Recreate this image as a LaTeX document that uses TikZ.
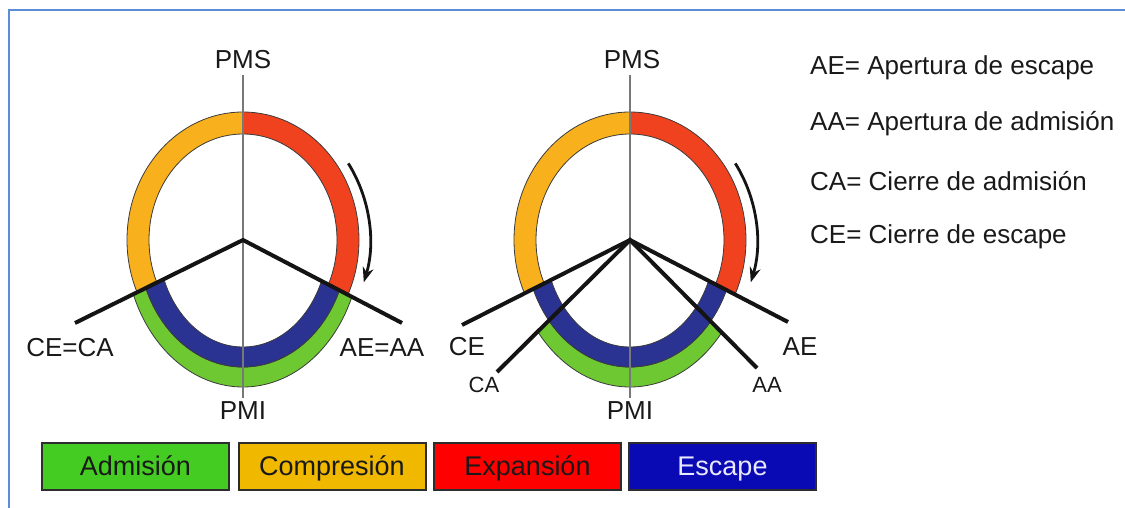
\documentclass[tikz,border=0pt]{standalone}
\usepackage{fontspec}
\setmainfont{Liberation Sans}
\usetikzlibrary{arrows.meta,calc}
\definecolor{frameblue}{HTML}{5B8ED6}
\definecolor{ringyellow}{RGB}{248,176,28}
\definecolor{ringred}{RGB}{240,66,30}
\definecolor{ringgreen}{RGB}{110,200,50}
\definecolor{ringblue}{RGB}{42,50,146}
\definecolor{bandedge}{RGB}{60,60,60}
\definecolor{axiscol}{RGB}{120,120,120}
\definecolor{raycol}{RGB}{20,20,20}
\definecolor{txt}{RGB}{25,25,25}
\definecolor{boxedge}{RGB}{45,45,45}
\definecolor{boxgreen}{RGB}{68,204,34}
\definecolor{boxyellow}{RGB}{240,185,0}
\definecolor{boxred}{RGB}{255,0,0}
\definecolor{boxblue}{RGB}{10,10,180}
\definecolor{lighttxt}{RGB}{232,232,255}
\begin{document}
\begin{tikzpicture}[x=1pt,y=-1pt,
  lbl/.style={font=\fontsize{26}{30}\selectfont, text=txt, inner sep=0pt},
  smalllbl/.style={font=\fontsize{22}{26}\selectfont, text=txt, inner sep=0pt},
  legbox/.style={draw=boxedge, line width=2pt, minimum width=187pt, minimum height=47pt, inner sep=0pt, text height=22pt, text depth=5pt, font=\fontsize{27}{30}\selectfont, text=txt},
  ray/.style={line width=4pt, draw=raycol},
  axisline/.style={line width=1.3pt, draw=axiscol},
  band/.style={even odd rule, draw=bandedge, line width=0.8pt},
  turn/.style={line width=2.8pt, draw=raycol, -{Stealth[length=15pt,width=11pt]}},
]
\useasboundingbox (0,0) rectangle (1125,508);
\draw[frameblue, line width=2pt] (1125,10) -- (9,10) -- (9,508);

% ---------- circle 1 ----------
\coordinate (c1) at (243,240);
\coordinate (l1) at (75,323);
\coordinate (r1) at (402,323);
\coordinate (t1) at (243,75);
\coordinate (b1) at (243,398);
\begin{scope}
  \clip (c1) -- ($(c1)!4!(l1)$) -- ($(c1)+(-700,-700)$) -- ($(c1)+(0,-700)$) -- cycle;
  \path[band, fill=ringyellow] (c1) ellipse[x radius=116, y radius=128] (c1) ellipse[x radius=94, y radius=106];
\end{scope}
\begin{scope}
  \clip (c1) -- ($(c1)!4!(r1)$) -- ($(c1)+(700,-700)$) -- ($(c1)+(0,-700)$) -- cycle;
  \path[band, fill=ringred] (c1) ellipse[x radius=116, y radius=128] (c1) ellipse[x radius=94, y radius=106];
\end{scope}
\begin{scope}
  \clip (c1) -- ($(c1)!4!(l1)$) -- ($(c1)!4!(r1)$) -- cycle;
  \path[band, fill=ringgreen] (c1) ellipse[x radius=118, y radius=147] (c1) ellipse[x radius=105, y radius=127];
  \path[band, fill=ringblue] (c1) ellipse[x radius=105, y radius=127] (c1) ellipse[x radius=85, y radius=107];
\end{scope}
\draw[axisline] (t1) -- (b1);
\draw[ray] (l1) -- (c1) -- (r1);
\coordinate (a1s) at ($(c1)+(-34:127 and 137)$);
\draw[turn] (a1s) arc[start angle=-34, end angle=18, x radius=127, y radius=137];
\node[lbl] (pms1) at (243,60) {PMS};
\node[lbl] (pmi1) at (243,411) {PMI};
\node[lbl] (cl1) at (70,348) {CE=CA};
\node[lbl] (cr1) at (382,348) {AE=AA};

% ---------- circle 2 ----------
\coordinate (c2) at (630,240);
\coordinate (ce2) at (462,325);
\coordinate (ae2) at (788,322);
\coordinate (ca2) at (497,372);
\coordinate (aa2) at (757,368);
\coordinate (t2) at (630,75);
\coordinate (b2) at (630,398);
\begin{scope}
  \clip (c2) -- ($(c2)!4!(ce2)$) -- ($(c2)+(-700,-700)$) -- ($(c2)+(0,-700)$) -- cycle;
  \path[band, fill=ringyellow] (c2) ellipse[x radius=116, y radius=128] (c2) ellipse[x radius=94, y radius=106];
\end{scope}
\begin{scope}
  \clip (c2) -- ($(c2)!4!(ae2)$) -- ($(c2)+(700,-700)$) -- ($(c2)+(0,-700)$) -- cycle;
  \path[band, fill=ringred] (c2) ellipse[x radius=116, y radius=128] (c2) ellipse[x radius=94, y radius=106];
\end{scope}
\begin{scope}
  \clip (c2) -- ($(c2)!4!(ca2)$) -- ($(c2)!4!(aa2)$) -- cycle;
  \path[band, fill=ringgreen] (c2) ellipse[x radius=118, y radius=147] (c2) ellipse[x radius=105, y radius=127];
\end{scope}
\begin{scope}
  \clip (c2) -- ($(c2)!4!(ce2)$) -- ($(c2)!4!(ae2)$) -- cycle;
  \path[band, fill=ringblue] (c2) ellipse[x radius=105, y radius=127] (c2) ellipse[x radius=85, y radius=107];
\end{scope}
\draw[axisline] (t2) -- (b2);
\draw[ray] (ce2) -- (c2) -- (ae2);
\draw[ray] (ca2) -- (c2) -- (aa2);
\coordinate (a2s) at ($(c2)+(-34:127 and 137)$);
\draw[turn] (a2s) arc[start angle=-34, end angle=18, x radius=127, y radius=137];
\node[lbl] (pms2) at (632,60) {PMS};
\node[lbl] (pmi2) at (630,411) {PMI};
\node[lbl] (lce2) at (467,347) {CE};
\node[lbl] (lae2) at (800,347) {AE};
\node[smalllbl] (lca2) at (484,385) {CA};
\node[smalllbl] (laa2) at (767,385) {AA};

% ---------- legend ----------
\node[lbl, anchor=west] (k1) at (810,68) {AE= Apertura de escape};
\node[lbl, anchor=west] (k2) at (810,124) {AA= Apertura de admisión};
\node[lbl, anchor=west] (k3) at (810,181) {CA= Cierre de admisión};
\node[lbl, anchor=west] (k4) at (810,237) {CE= Cierre de escape};

\node[legbox, fill=boxgreen] (bx1) at (135.5,466.5) {Admisión};
\node[legbox, fill=boxyellow] (bx2) at (332,466.5) {Compresión};
\node[legbox, fill=boxred] (bx3) at (527.5,466.5) {Expansión};
\node[legbox, fill=boxblue, text=lighttxt] (bx4) at (722.5,466.5) {Escape};
\end{tikzpicture}
\end{document}
